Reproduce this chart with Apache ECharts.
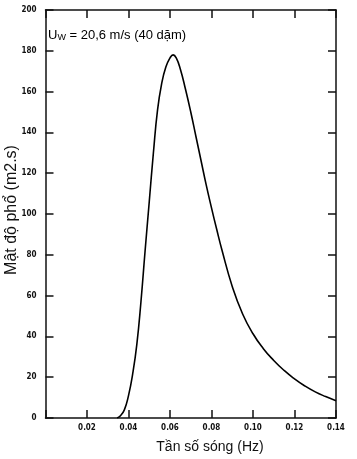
<!DOCTYPE html>
<html>
<head>
<meta charset="utf-8">
<script src="https://cdn.jsdelivr.net/npm/echarts@6/dist/echarts.min.js"></script>
<style>
html,body{margin:0;padding:0;background:#fff;}
#c{width:357px;height:459px;}
</style>
</head>
<body>
<div id="c"></div>
<script>
var frequency = [0.0345, 0.036, 0.038, 0.040, 0.042, 0.044, 0.046, 0.048, 0.050, 0.052, 0.054, 0.056, 0.058, 0.060, 0.0615, 0.063, 0.065, 0.0675, 0.070, 0.0725, 0.075, 0.0775, 0.080, 0.0825, 0.085, 0.090, 0.095, 0.100, 0.105, 0.110, 0.115, 0.120, 0.125, 0.130, 0.135, 0.140];
var density = [0, 1, 4, 11, 21.5, 36, 57, 82, 106, 130, 151, 164, 172, 176.5, 178, 176.5, 171, 161, 150, 138, 126, 114, 103, 92.5, 82.5, 64.5, 51, 41.3, 34.0, 28.2, 23.3, 19.2, 15.7, 12.8, 10.5, 8.5];
var xTickLabels = ['', '0.02', '0.04', '0.06', '0.08', '0.10', '0.12', '0.14'];
var yTickLabels = ['0', '20', '40', '60', '80', '100', '120', '140', '160', '180', '200'];
var xTitle = 'Tần số sóng (Hz)';
var yTitle = 'Mật độ phổ (m2.s)';

var pts = frequency.map(function (f, i) { return [f, density[i]]; });
function tickFont() { return {fontFamily: 'DejaVu Sans Condensed, DejaVu Sans', fontWeight: 'bold', fontSize: 8, color: '#111'}; }
function axisLine() { return {show: true, onZero: false, lineStyle: {color: '#111', width: 1.5}}; }
function axisTick() { return {show: true, inside: true, length: 8, lineStyle: {color: '#111', width: 1.5}}; }

var chart = echarts.init(document.getElementById('c'), null, {renderer: 'canvas'});
chart.setOption({
  animation: false,
  backgroundColor: '#fff',
  grid: {left: 45.5, right: 21, top: 10, bottom: 41},
  xAxis: [{
    type: 'value', min: 0, max: 0.14, interval: 0.02, position: 'bottom',
    axisLine: axisLine(), axisTick: axisTick(), splitLine: {show: false},
    axisLabel: Object.assign({margin: 6, formatter: function (v) { return xTickLabels[Math.round(v / 0.02)]; }}, tickFont())
  }, {
    type: 'value', min: 0, max: 0.14, interval: 0.02, position: 'top',
    axisLine: axisLine(), axisTick: axisTick(), splitLine: {show: false}, axisLabel: {show: false}
  }],
  yAxis: [{
    type: 'value', min: 0, max: 200, interval: 20, position: 'left',
    axisLine: axisLine(), axisTick: axisTick(), splitLine: {show: false},
    axisLabel: Object.assign({margin: 9, formatter: function (v) { return yTickLabels[Math.round(v / 20)]; }}, tickFont())
  }, {
    type: 'value', min: 0, max: 200, interval: 20, position: 'right',
    axisLine: axisLine(), axisTick: axisTick(), splitLine: {show: false}, axisLabel: {show: false}
  }],
  series: [{
    type: 'line', data: pts, smooth: 0.5, symbol: 'none',
    lineStyle: {color: '#000', width: 1.6}
  }],
  graphic: [{
    type: 'text', x: 210, y: 447,
    style: {text: xTitle, font: '14px "Liberation Sans", Arial, sans-serif', fill: '#111', textAlign: 'center', textVerticalAlign: 'middle'}
  }, {
    type: 'text', x: 12, y: 210, rotation: Math.PI / 2,
    style: {text: yTitle, font: '16px "Liberation Sans", Arial, sans-serif', fill: '#111', textAlign: 'center', textVerticalAlign: 'middle'}
  }, {
    type: 'text', x: 48, y: 35,
    style: {
      text: '{u|U}{w|W}{t| = 20,6 m/s (40 dặm)}',
      textVerticalAlign: 'middle',
      rich: {
        u: {fontFamily: 'Liberation Sans', fontSize: 13, color: '#111'},
        w: {fontFamily: 'Liberation Sans', fontSize: 9, color: '#111', padding: [6, 0, 0, 0]},
        t: {fontFamily: 'Liberation Sans', fontSize: 13, color: '#111'}
      }
    }
  }]
});
</script>
</body>
</html>
